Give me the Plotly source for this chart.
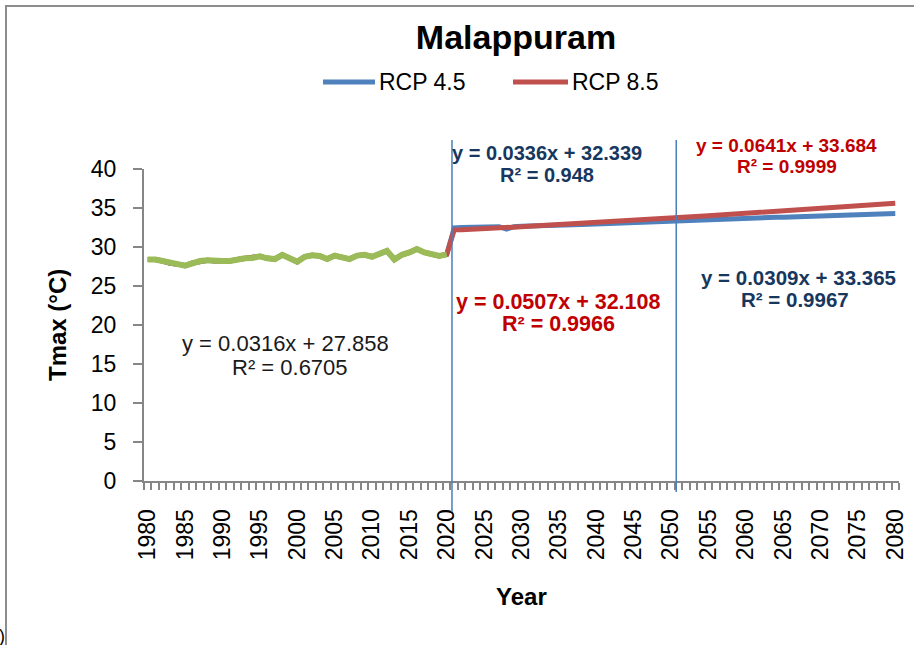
import plotly.graph_objects as go

# ---------------- data ----------------
years_hist = list(range(1980, 2021))
tmax_hist = [28.4, 28.4, 28.2, 27.9, 27.8, 27.6, 27.95, 28.2, 28.3, 28.2,
             28.2, 28.2, 28.4, 28.55, 28.6, 28.8, 28.55, 28.45, 29.0, 28.55,
             28.1, 28.75, 28.95, 28.85, 28.45, 28.9, 28.7, 28.45, 28.9, 29.0,
             28.75, 29.1, 29.5, 28.4, 29.0, 29.3, 29.75, 29.3, 29.1, 28.85,
             29.05]

years_proj = list(range(2021, 2081))
rcp45 = [32.45, 32.5, 32.5, 32.5, 32.55, 32.55, 32.6, 32.3, 32.6, 32.65,
         32.7, 32.72, 32.75, 32.78, 32.82, 32.85, 32.88, 32.9, 32.93, 32.97,
         33.0, 33.03, 33.07, 33.1, 33.13, 33.17, 33.2, 33.23, 33.27, 33.3,
         33.4, 33.43, 33.46, 33.49, 33.52, 33.55, 33.58, 33.61, 33.64, 33.67,
         33.7, 33.73, 33.76, 33.8, 33.83, 33.86, 33.89, 33.92, 33.95, 33.98,
         34.01, 34.04, 34.07, 34.1, 34.13, 34.16, 34.19, 34.22, 34.25, 34.28]
rcp85 = [32.2, 32.22, 32.25, 32.3, 32.35, 32.4, 32.45, 32.5, 32.55, 32.6,
         32.65, 32.7, 32.76, 32.8, 32.86, 32.9, 32.96, 33.0, 33.06, 33.1,
         33.16, 33.2, 33.26, 33.3, 33.36, 33.4, 33.46, 33.5, 33.56, 33.6,
         33.75, 33.81, 33.88, 33.94, 34.0, 34.07, 34.13, 34.2, 34.26, 34.32,
         34.39, 34.45, 34.52, 34.58, 34.64, 34.71, 34.77, 34.84, 34.9, 34.96,
         35.03, 35.09, 35.16, 35.22, 35.28, 35.35, 35.41, 35.48, 35.54, 35.6]

x_tick_labels = [str(y) for y in range(1980, 2081, 5)]
y_tick_vals = list(range(0, 41, 5))
split_years = [2020.7, 2050.7]

# ---------------- geometry ----------------
W, H = 914, 645
L, R, T, B = 144, 15, 169, 164
X_MIN, X_MAX = 1979.5, 2080.5
Y_MIN, Y_MAX = 0, 40
PW, PH = W - L - R, H - T - B

def px_x(px):
    return (px - L) / PW

def px_y(py):
    return (H - B - py) / PH

def yr_x(yr):
    return (yr - X_MIN) / (X_MAX - X_MIN)

BLUE = "#4F81BD"
RED = "#C0504D"
GREEN = "#9BBB59"
DKBLUE = "#17375E"
DKRED = "#C00000"
FONT = "Liberation Sans, Arial, sans-serif"

fig = go.Figure()
fig.add_trace(go.Scatter(x=years_hist + years_proj, y=tmax_hist + rcp45,
                         mode="lines", name="RCP 4.5", showlegend=False,
                         line=dict(color=BLUE, width=5)))
fig.add_trace(go.Scatter(x=years_hist + years_proj, y=tmax_hist + rcp85,
                         mode="lines", name="RCP 8.5", showlegend=False,
                         line=dict(color=RED, width=5)))
fig.add_trace(go.Scatter(x=years_hist, y=tmax_hist, mode="lines",
                         name="Observed", showlegend=False,
                         line=dict(color=GREEN, width=6)))

shapes = []
for yr, bottom in zip(split_years, [512, 492]):
    shapes.append(dict(type="line", xref="paper", yref="paper",
                       x0=yr_x(yr), x1=yr_x(yr), y0=px_y(140), y1=px_y(bottom),
                       line=dict(color="#4A7EBB", width=1.5), layer="above"))
# outer border
shapes.append(dict(type="rect", xref="paper", yref="paper",
                   x0=px_x(6), x1=px_x(930), y0=px_y(6), y1=px_y(660),
                   line=dict(color="#8C8C8C", width=2)))

def ann(text, xpx, ypx, color, size, bold=False, xanchor="center"):
    return dict(text=("<b>%s</b>" % text) if bold else text,
                xref="paper", yref="paper", x=px_x(xpx), y=px_y(ypx),
                xanchor=xanchor, yanchor="middle", showarrow=False,
                font=dict(family=FONT, size=size, color=color))

# custom legend (line samples + labels)
legend_items = [("RCP 4.5", BLUE, 323, 375), ("RCP 8.5", RED, 513, 568)]
annotations = []
for name, col, lx0, lx1 in legend_items:
    shapes.append(dict(type="line", xref="paper", yref="paper",
                       x0=px_x(lx0), x1=px_x(lx1), y0=px_y(82), y1=px_y(82),
                       line=dict(color=col, width=5)))
    annotations.append(ann(name, lx1 + 2, 82, "black", 23, xanchor="left"))

annotations += [
    ann("y = 0.0316x + 27.858", 285, 343, "#1a1a1a", 22),
    ann("R² = 0.6705", 290, 367, "#1a1a1a", 22),
    ann("y = 0.0336x + 32.339", 547, 153, DKBLUE, 20, True),
    ann("R² = 0.948", 547, 175, DKBLUE, 20, True),
    ann("y = 0.0641x + 33.684", 786, 145, DKRED, 19, True),
    ann("R² = 0.9999", 787, 166, DKRED, 19, True),
    ann("y = 0.0507x + 32.108", 558, 302, DKRED, 21.5, True),
    ann("R² = 0.9966", 558, 324, DKRED, 21.5, True),
    ann("y = 0.0309x + 33.365", 798, 277, DKBLUE, 20.5, True),
    ann("R² = 0.9967", 795, 299, DKBLUE, 20.5, True),
    dict(text="<b>Tmax (°C)</b>", xref="paper", yref="paper",
         x=px_x(57), y=px_y(325), textangle=-90, showarrow=False,
         xanchor="center", yanchor="middle",
         font=dict(family=FONT, size=24, color="black")),
    dict(text="<b>Year</b>", xref="paper", yref="paper",
         x=px_x(521), y=px_y(596), showarrow=False,
         xanchor="center", yanchor="middle",
         font=dict(family=FONT, size=24, color="black")),
    dict(text=")", xref="paper", yref="paper", x=px_x(-3), y=px_y(636),
         showarrow=False, xanchor="left", yanchor="middle",
         font=dict(family=FONT, size=18, color="black")),
]

fig.update_layout(
    width=W, height=H,
    margin=dict(l=L, r=R, t=T, b=B, pad=0, autoexpand=False),
    paper_bgcolor="white", plot_bgcolor="white",
    font=dict(family=FONT, size=23, color="black"),
    showlegend=False,
    title=dict(text="<b>Malappuram</b>", x=516 / W, xanchor="center",
               y=1 - 37 / H, yanchor="middle",
               font=dict(family=FONT, size=34, color="black")),
    shapes=shapes,
    annotations=annotations,
    xaxis=dict(range=[X_MIN, X_MAX], tickmode="array", automargin=False,
               tickvals=[int(v) for v in x_tick_labels], ticktext=x_tick_labels,
               tickangle=-90, ticks="", showgrid=False, zeroline=False,
               showline=True, linecolor="#868686", linewidth=2,
               ticklabelstandoff=17,
               tickfont=dict(family=FONT, size=23, color="black"),
               minor=dict(tick0=1979.5, dtick=1, ticks="outside", ticklen=7,
                          tickcolor="#868686", tickwidth=1.5, showgrid=False)),
    yaxis=dict(range=[Y_MIN, Y_MAX], tickmode="array", tickvals=y_tick_vals,
               automargin=False,
               ticks="outside", ticklen=9, tickcolor="#868686", tickwidth=2,
               showgrid=False, zeroline=False, showline=True,
               linecolor="#868686", linewidth=2, ticklabelstandoff=12,
               tickfont=dict(family=FONT, size=23, color="black")),
)

fig.write_html("out.html",
               config={"displayModeBar": False},
               post_script="document.body.style.margin='0px';"
                           "document.body.style.padding='0px';"
                           "document.body.style.overflow='hidden';")
